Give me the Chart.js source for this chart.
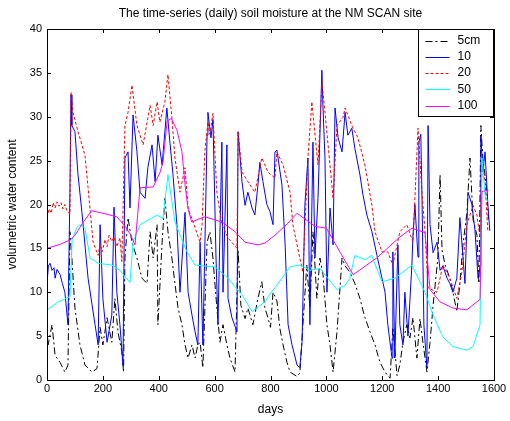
<!DOCTYPE html>
<html>
<head>
<meta charset="utf-8">
<script src="https://cdn.jsdelivr.net/npm/chart.js@4.4.0/dist/chart.umd.min.js"></script>
<style>
  body { margin: 0; background: #fff; }
  .chartBox { width: 510px; height: 421px; }
</style>
</head>
<body>
<div class="chartBox"><canvas id="soilChart"></canvas></div>
<script>
'use strict'

// 축 눈금
const xTicks = [0, 200, 400, 600, 800, 1000, 1200, 1400, 1600];
const yTicks = [0, 5, 10, 15, 20, 25, 30, 35, 40];
const seriesNames = ['5cm', '10', '20', '50', '100'];

// 5cm
const days5 = [0,4,18,29,47,64,75,82,89,100,118,136,161,179,190,200,215,232,243,254,268,274,279,290,304,322,340,358,369,380,394,397,412,422,433,447,458,469,483,494,505,519,530,540,548,558,573,583,594,608,619,630,644,655,673,684,694,709,719,737,755,769,780,791,800,809,823,834,845,859,870,895,905,916,930,941,952,966,977,988,1002,1013,1024,1038,1056,1067,1084,1102,1120,1138,1156,1174,1192,1210,1228,1238,1253,1263,1274,1288,1299,1310,1324,1335,1346,1360,1371,1382,1399,1407,1414,1425,1442,1453,1467,1478,1489,1503,1514,1525,1539,1546,1553,1560,1575,1580];
const vals5 = [5.9,4,6.3,2.8,2,0.9,1.7,16.9,13.9,8.2,4,1.7,0.9,1.3,6,4,7.1,4.3,9.3,5.5,3.2,0.9,13.9,18.5,15.7,13.9,11.6,11,16.9,13.9,17.7,6.3,15.7,20.7,16.9,13.9,11,8.2,6.3,4,2.5,4,2.5,4,4.3,1.4,15.7,16.9,13.9,8.2,4.3,6.3,4,2.5,0.9,14.8,8.5,7,8.2,6.3,9.3,11.2,8.2,7.1,6,10,9,5.8,4,2,0.9,0.4,0.8,6.3,13.1,8.2,16.9,9.3,13.9,12,6.3,4,0.9,5.5,13.9,13,12.3,11,9.3,7.1,5.5,4,2,0.9,0.2,6,0.5,1.7,4.3,6.3,4.8,7.1,2.5,7,4.2,0.9,4.3,8.5,13.9,23.4,14.8,13.1,11.6,10,7.8,11,15.5,19,25.3,18.3,16.5,11,29,25.3,21.4,18.3];

// 10cm
const days10 = [0,5,11,18,25,29,36,47,55,64,70,75,82,86,89,100,111,125,147,172,183,190,200,215,232,240,250,261,272,279,290,297,308,322,333,351,361,376,387,397,412,429,440,451,465,476,494,505,519,530,540,548,558,573,576,587,594,605,612,626,630,644,648,662,680,684,698,709,719,734,744,755,762,773,787,798,809,816,823,841,852,863,877,895,905,913,923,934,941,952,959,970,984,988,995,1002,1013,1024,1031,1042,1056,1067,1077,1091,1102,1120,1131,1145,1163,1181,1199,1210,1220,1235,1238,1245,1256,1263,1274,1281,1292,1306,1310,1317,1328,1331,1338,1342,1349,1360,1364,1371,1382,1396,1407,1417,1432,1442,1453,1467,1478,1489,1496,1507,1521,1532,1543,1550,1553,1560,1568,1578,1585];
const vals10 = [11,13,13.3,12.5,12.8,11.6,12.6,12,11,10,8,6.3,21.4,32.5,29,28.3,23.4,19.1,11.6,6.3,4,17.7,9.3,4.3,7.4,19.7,10,6.3,1.7,25.3,26,19.6,30.2,26,21.4,20.7,24.2,26.8,22.6,27.9,24.5,31,27.1,23.4,17.7,10,19.1,10,7.4,5.5,4,15.7,4,27.9,30.5,27.6,29.7,13.9,6.3,27.1,10,26.8,9.3,7.1,5.5,28.3,22.6,19.9,21.4,19.6,18.8,22.2,24.8,22.6,20,19.2,17.7,26,26.2,22.2,15.7,6.3,4,1.7,1.4,4.3,19.9,25.3,6.3,27.1,13.9,20.7,35.3,31,25.3,10,19.6,15.4,31,27.6,26,30.5,27.9,28.7,26.4,23.4,21.1,18.8,16.9,14.2,11.6,10,6.3,2.5,14.6,2.5,15.4,6.3,4,10,5,13.1,16.5,20,14,27.1,28,21.4,6.3,1.4,29,17.7,14.5,15.7,12.5,13,11.6,11,10,11.6,18.5,14,11,21.4,20,17,11.6,13,27.9,23.7,26,20,17];

// 20cm
const days20 = [0,8,15,22,29,36,43,50,57,64,72,82,86,93,111,136,147,165,183,190,197,208,215,222,232,240,250,261,268,279,290,304,322,344,369,380,394,404,422,433,447,458,476,494,505,523,548,555,565,576,583,594,608,626,648,680,684,698,719,744,769,791,816,823,845,870,880,905,916,934,948,970,984,995,1013,1024,1038,1059,1067,1091,1113,1138,1163,1174,1199,1220,1238,1263,1288,1310,1328,1342,1353,1364,1396,1417,1442,1467,1485,1503,1525,1539,1550,1557,1568,1578];
const vals20 = [18.5,19.5,19,20.2,19.6,20.3,19.8,20.2,19.5,20,19.2,18.9,32.8,30.5,28.3,25.6,21.9,15.7,14.2,15.5,14.6,16,15.2,16.5,15.8,16.3,15.2,16.2,13.5,29,30.5,33.6,29,26.8,31.3,29,31.7,29.4,31.7,34.8,29.9,25.3,21.4,24.2,19.6,18,15.7,17.7,26,29.4,28,30.4,21.4,17.7,16.2,15,28.3,23.7,22.6,21.4,25.3,23.7,23,26,24.5,21.4,17.7,13.9,12.3,25.3,31.7,24.5,34,30.5,24.5,20.7,29,29.9,31,29,27.6,24.5,19.9,16.9,14.6,14.6,13.1,16.9,17.7,15.7,28.7,21.4,17,10.5,10,13.1,11.6,9.3,12.3,17.7,19.9,18.8,16.2,24.8,22.6,16.9];

// 50cm
const days50 = [0,40,82,90,107,118,136,154,183,232,261,297,308,333,394,415,433,458,501,530,560,601,648,698,734,780,798,816,870,905,941,977,1038,1067,1084,1102,1138,1162,1199,1245,1306,1353,1382,1417,1453,1503,1525,1550,1557,1568,1578];
const vals50 = [8,8.9,9.5,16,17.4,17.7,17.3,13.9,13.3,13.1,12.5,11.1,15.7,17.7,18.8,18.4,23.4,18,14.6,13.1,13,12.9,11.6,9.7,7.8,8.9,9.8,10.5,12.9,13.1,12.5,12.7,10.3,10.8,11.6,14.2,13.7,14.2,11.2,11.6,13.1,10,7.4,4.9,3.8,3.4,3.8,6.3,25.3,21,20.3];

// 100cm
const days100 = [0,50,85,100,130,160,200,250,280,300,315,333,380,405,415,430,445,465,483,495,505,518,548,565,627,673,709,755,780,816,860,895,960,1000,1050,1096,1140,1180,1263,1306,1353,1371,1407,1453,1503,1550,1557,1580];
const vals100 = [15,15.5,16,16.5,18,19.3,19,18.6,17.5,16.5,15.4,21.9,22,23.7,24.8,29.5,29.8,28.5,26,22,19.5,18,18.4,18.6,18,16.9,15.7,15.4,15.6,16.5,17.8,19,17.5,17.3,14.5,12,13,13.9,16.3,17.3,16.8,10.3,8.9,8.2,8,9.2,21.5,21.6];

//==================================================================================================

const fontFamily = '"Liberation Sans", Arial, Helvetica, sans-serif';

function toPoints(days, vals){
	return days.map((d, i) => ({ x: d, y: vals[i] }));
}

function makeDataset(idx, days, vals, color, dash){
	return {
		label: seriesNames[idx],
		data: toPoints(days, vals),
		borderColor: color,
		borderWidth: 1,
		borderDash: dash,
		pointRadius: 0,
		tension: 0,
		fill: false,
		order: 5 - idx
	};
}

//박스와 안쪽 눈금, 범례
const framePlugin = {
	id: 'framePlugin',
	afterDraw(chart){
		const ctx = chart.ctx;
		const a = chart.chartArea;
		const xs = chart.scales.x;
		const ys = chart.scales.y;
		ctx.save();
		ctx.strokeStyle = '#000';
		ctx.lineWidth = 1;
		ctx.setLineDash([]);
		ctx.strokeRect(Math.round(a.left) + 0.5, Math.round(a.top) + 0.5, Math.round(a.right - a.left), Math.round(a.bottom - a.top));
		ctx.beginPath();
		xTicks.forEach((v) => {
			const px = Math.round(xs.getPixelForValue(v)) + 0.5;
			ctx.moveTo(px, a.bottom); ctx.lineTo(px, a.bottom - 4);
			ctx.moveTo(px, a.top); ctx.lineTo(px, a.top + 4);
		});
		yTicks.forEach((v) => {
			const py = Math.round(ys.getPixelForValue(v)) + 0.5;
			ctx.moveTo(a.left, py); ctx.lineTo(a.left + 4, py);
			ctx.moveTo(a.right, py); ctx.lineTo(a.right - 4, py);
		});
		ctx.stroke();

		//범례
		const bw = 75, bh = 87;
		const bx = Math.round(a.right) - bw - 0.5;
		const by = Math.round(a.top) + 0.5;
		ctx.fillStyle = '#fff';
		ctx.fillRect(bx, by, bw, bh);
		ctx.strokeStyle = '#000';
		ctx.strokeRect(bx, by, bw, bh);
		ctx.font = '12px ' + fontFamily;
		ctx.textBaseline = 'middle';
		chart.data.datasets.forEach((ds, i) => {
			const ry = by + 11 + i * 16.3;
			ctx.save();
			ctx.strokeStyle = ds.borderColor;
			ctx.lineWidth = 1;
			ctx.setLineDash(ds.borderDash || []);
			ctx.beginPath();
			ctx.moveTo(bx + 7, Math.round(ry) + 0.5);
			ctx.lineTo(bx + 31, Math.round(ry) + 0.5);
			ctx.stroke();
			ctx.restore();
			ctx.fillStyle = '#000';
			ctx.fillText(ds.label, bx + 39, ry);
		});
		ctx.restore();
	}
};

new Chart(document.getElementById('soilChart'), {
	type: 'line',
	data: {
		datasets: [
			makeDataset(0, days5, vals5, '#000000', [7, 3, 2, 3]),
			makeDataset(1, days10, vals10, '#0000ff', []),
			makeDataset(2, days20, vals20, '#ff0000', [3, 2]),
			makeDataset(3, days50, vals50, '#00ffff', []),
			makeDataset(4, days100, vals100, '#ff00ff', [])
		]
	},
	options: {
		responsive: true,
		maintainAspectRatio: false,
		animation: false,
		layout: { padding: { left: 0, right: 16, top: 0, bottom: 0 } },
		plugins: {
			legend: { display: false },
			tooltip: { enabled: false },
			title: {
				display: true,
				fullSize: false,
				text: 'The time-series (daily) soil moisture at the NM SCAN site',
				color: '#000',
				font: { family: fontFamily, size: 12, weight: 'normal' },
				padding: { top: 6, bottom: 8.6 }
			}
		},
		scales: {
			x: {
				type: 'linear',
				min: 0,
				max: 1600,
				afterBuildTicks: (scale) => { scale.ticks = xTicks.map((v) => ({ value: v })); },
				afterFit: (scale) => { scale.height = 41; },
				grid: { display: false, drawTicks: false },
				border: { display: false },
				ticks: { color: '#000', padding: 2, maxRotation: 0, font: { family: fontFamily, size: 11 }, callback: (v) => String(v) },
				title: { display: true, text: 'days', color: '#000', font: { family: fontFamily, size: 12 }, padding: { top: 0, bottom: 4 } }
			},
			y: {
				min: 0,
				max: 40,
				afterBuildTicks: (scale) => { scale.ticks = yTicks.map((v) => ({ value: v })); },
				afterFit: (scale) => { scale.width = 47; },
				grid: { display: false, drawTicks: false },
				border: { display: false },
				ticks: { color: '#000', padding: 5, font: { family: fontFamily, size: 11 }, callback: (v) => String(v) },
				title: { display: true, text: 'volumetric water content', color: '#000', font: { family: fontFamily, size: 12 }, padding: { top: 5, bottom: 0 } }
			}
		}
	},
	plugins: [framePlugin]
});
</script>
</body>
</html>
